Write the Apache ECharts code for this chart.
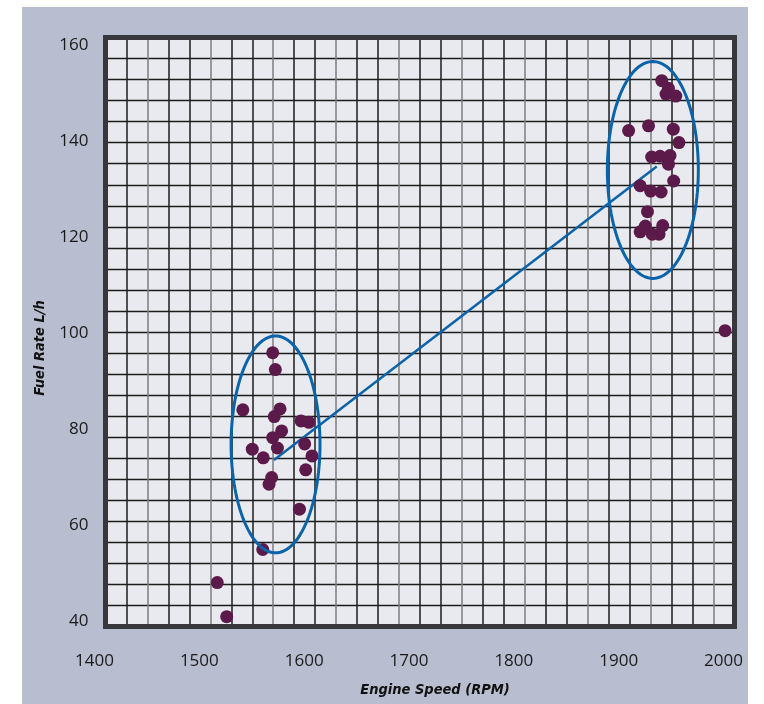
<!DOCTYPE html>
<html><head><meta charset="utf-8">
<script src="https://cdn.jsdelivr.net/npm/echarts@6/dist/echarts.min.js"></script>
<style>
html,body{margin:0;padding:0;background:#ffffff;}
#wrap{position:relative;width:764px;height:704px;overflow:hidden;}
#panel{position:absolute;left:22px;top:7px;width:726px;height:697px;background:#b8bdd0;}
#c{position:absolute;left:0;top:0;width:764px;height:704px;}
</style>
</head><body>
<div id="wrap"><div id="panel"></div><div id="c"></div></div>
<script>
// ---- data ----
const xTicks = [1400, 1500, 1600, 1700, 1800, 1900, 2000];
const yTicks = [40, 60, 80, 100, 120, 140, 160];

// [engine speed (RPM), fuel rate (L/h)]
const lowCluster = [
  [1559.5, 95.9], [1562, 92.4], [1531, 84.0], [1566.5, 84.2], [1561, 82.6],
  [1586.5, 81.7], [1594, 81.4], [1568, 79.6], [1559.5, 78.2], [1540, 75.8],
  [1564, 76.05], [1550.5, 74.0], [1590, 76.9], [1597, 74.4], [1591, 71.5],
  [1558.5, 69.9], [1556, 68.5], [1585, 63.3], [1550, 54.9], [1506.6, 48.0],
  [1515.6, 40.9]
];
const highCluster = [
  [1930.6, 152.6], [1937, 151.0], [1934.7, 149.8], [1944, 149.4], [1899, 142.2],
  [1918, 143.2], [1941.6, 142.5], [1947, 139.7], [1921, 136.7], [1929, 136.85],
  [1938.5, 137.0], [1937, 135.2], [1942, 131.7], [1910, 130.7], [1920, 129.6],
  [1930, 129.4], [1917, 125.3], [1915, 122.3], [1931.5, 122.4], [1910, 121.1],
  [1921.6, 120.6], [1928, 120.6]
];
const outliers = [[1991, 100.5]];

// cluster ellipses: [centre RPM, centre L/h, half-width RPM, half-height L/h]
const clusterEllipses = [
  [1562.2, 76.8, 42.4, 22.6],
  [1922.1, 134.0, 43.4, 22.6]
];
// line joining the cluster centres
const trendLine = [[1560.7, 73.55], [1925.8, 134.7]];

// decorative background grid (cells)
const gridCols = 30;
const gridRows = 28;

// ---- chart ----
const chart = echarts.init(document.getElementById('c'), null, {renderer: 'canvas'});
const frame = '#38383c';
const dotColor = '#5c1a4b';
const blue = '#0b63ab';
const labelFont = "'Open Sans', 'Noto Sans', sans-serif";
const titleFont = "'Liberation Sans Narrow', 'DejaVu Sans Condensed', 'Liberation Sans', sans-serif";

const vColors = [];
for (let i = 0; i <= gridCols; i++) vColors.push((i % 3 === 1) ? '#7c7c80' : '#1c1c1c');

const option = {
  backgroundColor: 'transparent',
  animation: false,
  grid: {
    left: 105.5, right: 29.5, top: 37.5, bottom: 77.5,
    show: true, backgroundColor: '#e9eaef', borderColor: frame, borderWidth: 5,
    containLabel: false, outerBoundsMode: 'none'
  },
  xAxis: [
    {
      type: 'value', min: xTicks[0], max: xTicks[xTicks.length - 1], interval: 100,
      position: 'bottom',
      axisLine: {show: true, onZero: false, lineStyle: {color: frame, width: 5}},
      axisTick: {show: false},
      splitLine: {show: false},
      axisLabel: {
        margin: 26, color: '#1a1a1a', fontSize: 17, fontFamily: labelFont,
        padding: [0, 22, 0, 0],
        formatter: function (v) { return String(v); }
      },
      name: 'Engine Speed (RPM)', nameLocation: 'middle', nameGap: 56,
      nameMoveOverlap: false,
      nameTextStyle: {
        fontFamily: titleFont, fontWeight: 'bold', fontStyle: 'italic',
        fontSize: 14.5, color: '#111', padding: [0, 0, 0, 30]
      }
    },
    {
      type: 'value', min: 0, max: gridCols, interval: 1, position: 'top',
      axisLine: {show: true, onZero: false, lineStyle: {color: frame, width: 5}},
      axisTick: {show: false}, axisLabel: {show: false},
      splitLine: {show: true, showMinLine: false, showMaxLine: false,
        lineStyle: {color: vColors, width: 1.5}}
    }
  ],
  yAxis: [
    {
      type: 'value', min: 38.85, max: 161.6, position: 'left',
      axisLine: {show: true, onZero: false, lineStyle: {color: frame, width: 5}},
      axisTick: {show: false},
      splitLine: {show: false},
      axisLabel: {
        customValues: yTicks, margin: 17, color: '#1a1a1a', fontSize: 17,
        fontFamily: labelFont, showMinLabel: true, showMaxLabel: true,
        formatter: function (v) { return String(v); }
      },
      name: 'Fuel Rate L/h', nameLocation: 'middle', nameGap: 58, nameRotate: 90,
      nameMoveOverlap: false,
      nameTextStyle: {
        fontFamily: titleFont, fontWeight: 'bold', fontStyle: 'italic',
        fontSize: 14.5, color: '#111', padding: [0, 32, 0, 0]
      }
    },
    {
      type: 'value', min: 0, max: gridRows, interval: 1, position: 'right',
      axisLine: {show: true, onZero: false, lineStyle: {color: frame, width: 5}},
      axisTick: {show: false}, axisLabel: {show: false},
      splitLine: {show: true, showMinLine: false, showMaxLine: false,
        lineStyle: {color: '#1c1c1c', width: 1.4}}
    }
  ],
  series: [
    {
      type: 'line', data: trendLine, symbol: 'none', z: 2,
      lineStyle: {color: blue, width: 2.5}
    },
    {
      type: 'scatter', data: lowCluster, symbolSize: 13, z: 3,
      itemStyle: {color: dotColor, opacity: 1}
    },
    {
      type: 'scatter', data: highCluster, symbolSize: 13, z: 3,
      itemStyle: {color: dotColor, opacity: 1}
    },
    {
      type: 'scatter', data: outliers, symbolSize: 13, z: 3,
      itemStyle: {color: dotColor, opacity: 1}
    },
    {
      type: 'custom', z: 4, clip: false,
      data: clusterEllipses,
      encode: {x: 0, y: 1},
      renderItem: function (params, api) {
        const cx = api.value(0), cy = api.value(1), rx = api.value(2), ry = api.value(3);
        const pts = [];
        const n = 120;
        for (let k = 0; k < n; k++) {
          const t = 2 * Math.PI * k / n;
          pts.push(api.coord([cx + rx * Math.cos(t), cy + ry * Math.sin(t)]));
        }
        return {
          type: 'polygon',
          shape: {points: pts},
          style: {fill: 'none', stroke: blue, lineWidth: 3}
        };
      }
    }
  ]
};
chart.setOption(option);
</script>
</body></html>
